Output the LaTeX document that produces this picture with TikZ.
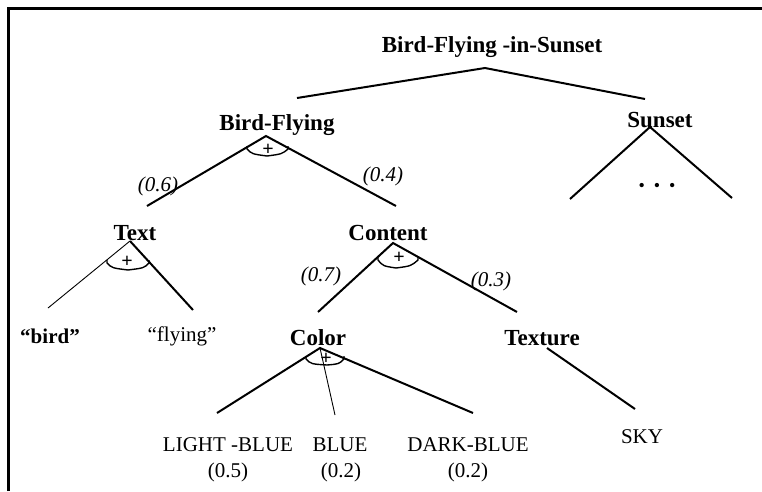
\documentclass[tikz,border=0pt]{standalone}
\usepackage{fontspec}
\setmainfont{Liberation Serif}
\begin{document}
\begin{tikzpicture}[x=1pt,y=-1pt,
  lbl/.style={inner sep=0pt,font=\fontsize{23}{23}\selectfont\bfseries},
  leaf/.style={inner sep=0pt,font=\fontsize{21}{21}\selectfont},
  wt/.style={inner sep=0pt,font=\fontsize{21}{21}\selectfont\itshape},
  edge/.style={line width=2pt},
  thinedge/.style={line width=0.9pt},
  andarc/.style={line width=1.4pt},
  plus/.style={inner sep=0pt,font=\fontsize{20}{20}\selectfont\bfseries}]
\path[use as bounding box] (0,0) rectangle (762,491);
% frame (cropped box)
\draw[line width=3pt] (8,491) -- (8,8) -- (762,8);

% labels
\node[lbl] (title) at (492,47) {Bird-Flying -in-Sunset};
\node[lbl] (bf) at (277,125) {Bird-Flying};
\node[lbl] (sunset) at (660,120) {Sunset};
\node[lbl] (text) at (135,233) {Text};
\node[lbl] (content) at (388,233) {Content};
\node[leaf,font=\fontsize{21}{21}\selectfont\bfseries] (bird) at (50,336) {“bird”};
\node[leaf] (flying) at (182,336) {“flying”};
\node[lbl] (color) at (318,338) {Color};
\node[lbl] (texture) at (542,338) {Texture};
\node[leaf] (lb) at (228,445) {LIGHT -BLUE};
\node[leaf] (lbp) at (228,472) {(0.5)};
\node[leaf] (blue) at (340,445) {BLUE};
\node[leaf] (bp) at (341,472) {(0.2)};
\node[leaf] (db) at (468,445) {DARK-BLUE};
\node[leaf] (dbp) at (468,472) {(0.2)};
\node[leaf] (sky) at (642,437) {SKY};
\node[wt] (w06) at (158,186) {(0.6)};
\node[wt] (w04) at (383,176) {(0.4)};
\node[wt] (w07) at (321,276) {(0.7)};
\node[wt] (w03) at (491,281) {(0.3)};
\node[inner sep=0pt,font=\fontsize{18}{18}\selectfont] (dots) at (657,187) {•\kern9pt•\kern9pt•};

% connector end points
\coordinate (tA) at (485,68);  \coordinate (tL) at (297,98);  \coordinate (tR) at (645,99);
\coordinate (bfA) at (266,136); \coordinate (bfL) at (147,206); \coordinate (bfR) at (396,206);
\coordinate (sA) at (650,127); \coordinate (sL) at (570,199); \coordinate (sR) at (732,198);
\coordinate (txA) at (130,241); \coordinate (txL) at (48,308); \coordinate (txR) at (193,310);
\coordinate (cA) at (393,243); \coordinate (cL) at (318,312); \coordinate (cR) at (517,312);
\coordinate (colA) at (320,348); \coordinate (colL) at (217,413); \coordinate (colM) at (335,415); \coordinate (colR) at (473,413);
\coordinate (texA) at (547,348); \coordinate (texE) at (635,409);

% edges
\draw[edge] (tL) -- (tA) -- (tR);
\draw[edge] (bfL) -- (bfA) -- (bfR);
\draw[edge] (sL) -- (sA) -- (sR);
\draw[thinedge] (txL) -- (txA);
\draw[edge] (txA) -- (txR);
\draw[edge] (cL) -- (cA) -- (cR);
\draw[edge] (colL) -- (colA) -- (colR);
\draw[thinedge] (colA) -- (colM);
\draw[edge] (texA) -- (texE);

% AND arcs with plus signs
\draw[andarc] (247,146) -- (247,149) .. controls (252,154) .. (267,156) .. controls (282,154) .. (288,149) -- (288,146);
\node[plus] (p1) at (268,150) {+};
\draw[andarc] (107,260) -- (107,263) .. controls (112,268) .. (128,270) .. controls (144,268) .. (149,263) -- (149,260);
\node[plus] (p2) at (127,262) {+};
\draw[andarc] (378,257) -- (378,260) .. controls (383,266) .. (396,268) .. controls (411,266) .. (418,260) -- (418,257);
\node[plus] (p3) at (399,258) {+};
\draw[andarc] (306,356) -- (306,359) .. controls (311,364) .. (327,365) .. controls (339,364) .. (344,359) -- (344,356);
\node[plus] (p4) at (326,359) {+};
\end{tikzpicture}
\end{document}
